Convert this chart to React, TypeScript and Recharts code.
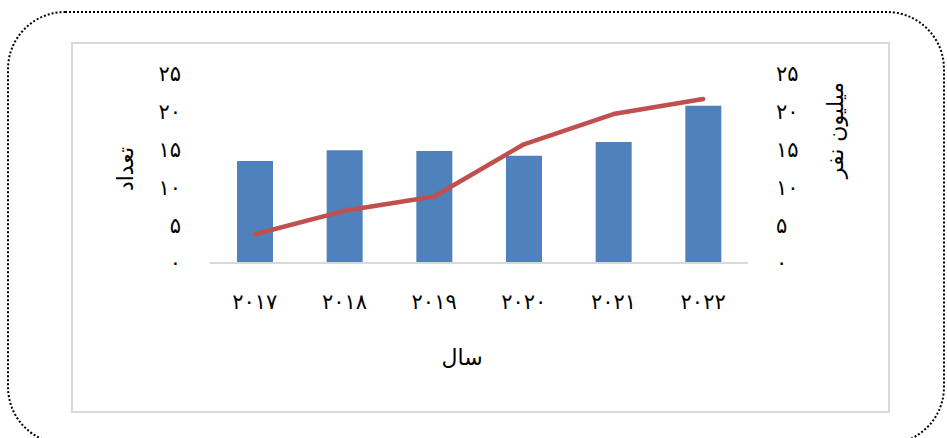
import { ComposedChart, Bar, Line, XAxis, YAxis, Label } from "recharts";

const years = ["۲۰۱۷", "۲۰۱۸", "۲۰۱۹", "۲۰۲۰", "۲۰۲۱", "۲۰۲۲"];
const counts = [13.5, 14.9, 14.8, 14.2, 16.0, 20.8];
const millions = [3.8, 6.9, 8.8, 15.7, 19.7, 21.7];
const yTicks = [0, 5, 10, 15, 20, 25];

const FONT = "'DejaVu Sans', sans-serif";
const persianDigits = "۰۱۲۳۴۵۶۷۸۹";
const toPersian = (v: number) =>
  String(v).replace(/\d/g, (d) => persianDigits[Number(d)]);

const data = years.map((year, i) => ({
  year,
  count: counts[i],
  million: millions[i],
}));

const yTickStyle = { fill: "#000", fontSize: 21, fontFamily: FONT };
const xTickStyle = {
  fill: "#000",
  fontSize: 21,
  fontFamily: FONT,
  letterSpacing: 3,
};

export default function App() {
  return (
    <div
      style={{
        position: "absolute",
        left: 0,
        top: 0,
        width: 947,
        height: 438,
        overflow: "hidden",
        background: "#fff",
      }}
    >
      <div
        style={{
          position: "absolute",
          left: 7,
          top: 11,
          width: 934,
          height: 430,
          border: "2px dotted #000",
          borderRadius: 58,
        }}
      />
      <div
        style={{
          position: "absolute",
          left: 71,
          top: 42,
          width: 815,
          height: 367,
          border: "2px solid #D9D9D9",
        }}
      />
      <div style={{ position: "absolute", left: 0, top: 0 }}>
        <ComposedChart
          width={947}
          height={438}
          data={data}
          margin={{ top: 74, right: 99, bottom: 115, left: 110 }}
        >
          <XAxis
            dataKey="year"
            height={60}
            tickLine={false}
            tickSize={0}
            tickMargin={31}
            axisLine={{ stroke: "#D9D9D9", strokeWidth: 2 }}
            tick={xTickStyle}
            interval={0}
          >
            <Label
              content={() => (
                <text
                  x={462}
                  y={357}
                  textAnchor="middle"
                  dominantBaseline="central"
                  fontSize={22}
                  fontFamily={FONT}
                  fill="#000"
                >
                  سال
                </text>
              )}
            />
          </XAxis>
          <YAxis
            yAxisId="left"
            width={100}
            domain={[0, 25]}
            ticks={yTicks}
            tickFormatter={toPersian}
            axisLine={false}
            tickLine={false}
            tickSize={0}
            tickMargin={29}
            tick={yTickStyle}
          >
            <Label
              content={() => (
                <text
                  x={125}
                  y={169}
                  transform="rotate(-90 125 169)"
                  textAnchor="middle"
                  dominantBaseline="central"
                  fontSize={22}
                  fontFamily={FONT}
                  fill="#000"
                >
                  تعداد
                </text>
              )}
            />
          </YAxis>
          <YAxis
            yAxisId="right"
            orientation="right"
            width={100}
            domain={[0, 25]}
            ticks={yTicks}
            tickFormatter={toPersian}
            axisLine={false}
            tickLine={false}
            tickSize={0}
            tickMargin={28}
            tick={yTickStyle}
          >
            <Label
              content={() => (
                <text
                  x={835}
                  y={130}
                  transform="rotate(-90 835 130)"
                  textAnchor="middle"
                  dominantBaseline="central"
                  fontSize={22}
                  fontFamily={FONT}
                  fill="#000"
                >
                  میلیون نفر
                </text>
              )}
            />
          </YAxis>
          <Bar
            yAxisId="left"
            dataKey="count"
            fill="#4F81BD"
            barSize={36}
            isAnimationActive={false}
          />
          <Line
            yAxisId="right"
            dataKey="million"
            type="linear"
            stroke="#C0504D"
            strokeWidth={4.5}
            strokeLinecap="round"
            strokeLinejoin="round"
            dot={false}
            activeDot={false}
            isAnimationActive={false}
          />
        </ComposedChart>
      </div>
    </div>
  );
}
